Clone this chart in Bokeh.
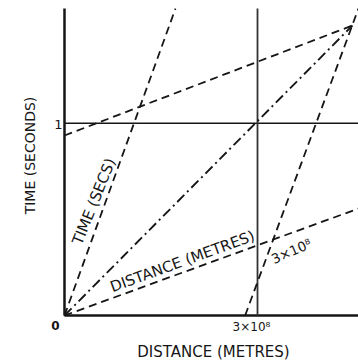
from bokeh.plotting import figure
from bokeh.models import Range1d
from bokeh.core.properties import value
from bokeh.embed import file_html
from bokeh.resources import INLINE

C = 3e8  # metres travelled by light in one second (the x tick)

# ---- data (x in metres, t in seconds) ----
X_END = 1.523 * C          # right end of x-axis / t=1 line
T_END = 1.596              # top of the two vertical lines

x_ticks = [1 * C]
x_tick_labels = ["3×10⁸"]
y_ticks = [1.0]
y_tick_labels = ["1"]
origin_label = ["0"]

# light world line (dash-dot)
light_x = [0.0, 1.492 * C]
light_t = [0.0, 1.508]

# moving-frame axes (dashed)
tprime_axis_x = [0.0, 0.575 * C]
tprime_axis_t = [0.0, 1.596]
xprime_axis_x = [0.0, 1.523 * C]
xprime_axis_t = [0.0, 0.556]

# line t' = 1 s and line x' = 3e8 m (dashed)
tprime1_x = [0.0, 1.500 * C]
tprime1_t = [0.936, 1.511]
xprime1_x = [0.936 * C, 1.523 * C]
xprime1_t = [0.0, 1.596]

x_title = "DISTANCE (METRES)"
y_title = "TIME (SECONDS)"
tprime_label = "TIME (SECS)"
xprime_label = "DISTANCE (METRES)"
xprime_tick_label = "3×10⁸"

# ---- figure ----
W, H = 358, 362
p = figure(width=W, height=H, output_backend="svg", toolbar_location=None,
           x_range=Range1d(-0.3316 * C, 1.5233 * C),
           y_range=Range1d(-0.2444, 1.638),
           x_axis_location=None, y_axis_location=None,
           min_border=0, outline_line_color=None,
           background_fill_color="white", border_fill_color="white")
p.grid.visible = False

INK = "#161616"
FONT = value("DejaVu Sans")

# axes lines
p.line([0, 0], [0, T_END], line_color=INK, line_width=2.5)
p.line([0, X_END], [0, 0], line_color=INK, line_width=2.5)
# grid lines at the unit ticks
p.line([0, X_END], [y_ticks[0], y_ticks[0]], line_color=INK, line_width=1.6)
p.line([x_ticks[0], x_ticks[0]], [0, T_END], line_color="#333333", line_width=1.8)

# light line
p.line(light_x, light_t, line_color=INK, line_width=1.9, line_dash="10 4 2 4")
# moving frame
dash = "8 5"
for xs, ts in [(tprime_axis_x, tprime_axis_t), (xprime_axis_x, xprime_axis_t),
               (tprime1_x, tprime1_t), (xprime1_x, xprime1_t)]:
    p.line(xs, ts, line_color=INK, line_width=1.8, line_dash=dash)

common = dict(text_font=FONT, text_color=INK, text_align="center",
              text_baseline="middle")

# tick labels
p.text(x=[0] * len(y_ticks), y=y_ticks, text=y_tick_labels, x_offset=-6, y_offset=1,
       text_font_size="13px", **common)
p.text(x=x_ticks, y=[0] * len(x_ticks), text=x_tick_labels, x_offset=-6, y_offset=11,
       text_font_size="12px", **common)
p.text(x=[0], y=[0], text=origin_label, x_offset=-9, y_offset=10,
       text_font_size="12px", text_font_style="bold", **common)

# axis titles
p.text(x=[0.772 * C], y=[-0.192], text=[x_title],
       text_font_size="15px", **common)
p.text(x=[-0.181 * C], y=[0.832], text=[y_title],
       angle=90, angle_units="deg", text_font_size="14px", **common)

# labels along the moving-frame axes
p.text(x=[0.153 * C], y=[0.593], text=[tprime_label],
       angle=68, angle_units="deg", text_font_size="15px", **common)
p.text(x=[0.611 * C], y=[0.281], text=[xprime_label],
       angle=20, angle_units="deg", text_font_size="15px", **common)
p.text(x=[1.175 * C], y=[0.335], text=[xprime_tick_label],
       angle=24, angle_units="deg", text_font_size="13.5px", **common)

open("out.html", "w").write(file_html(p, INLINE))
